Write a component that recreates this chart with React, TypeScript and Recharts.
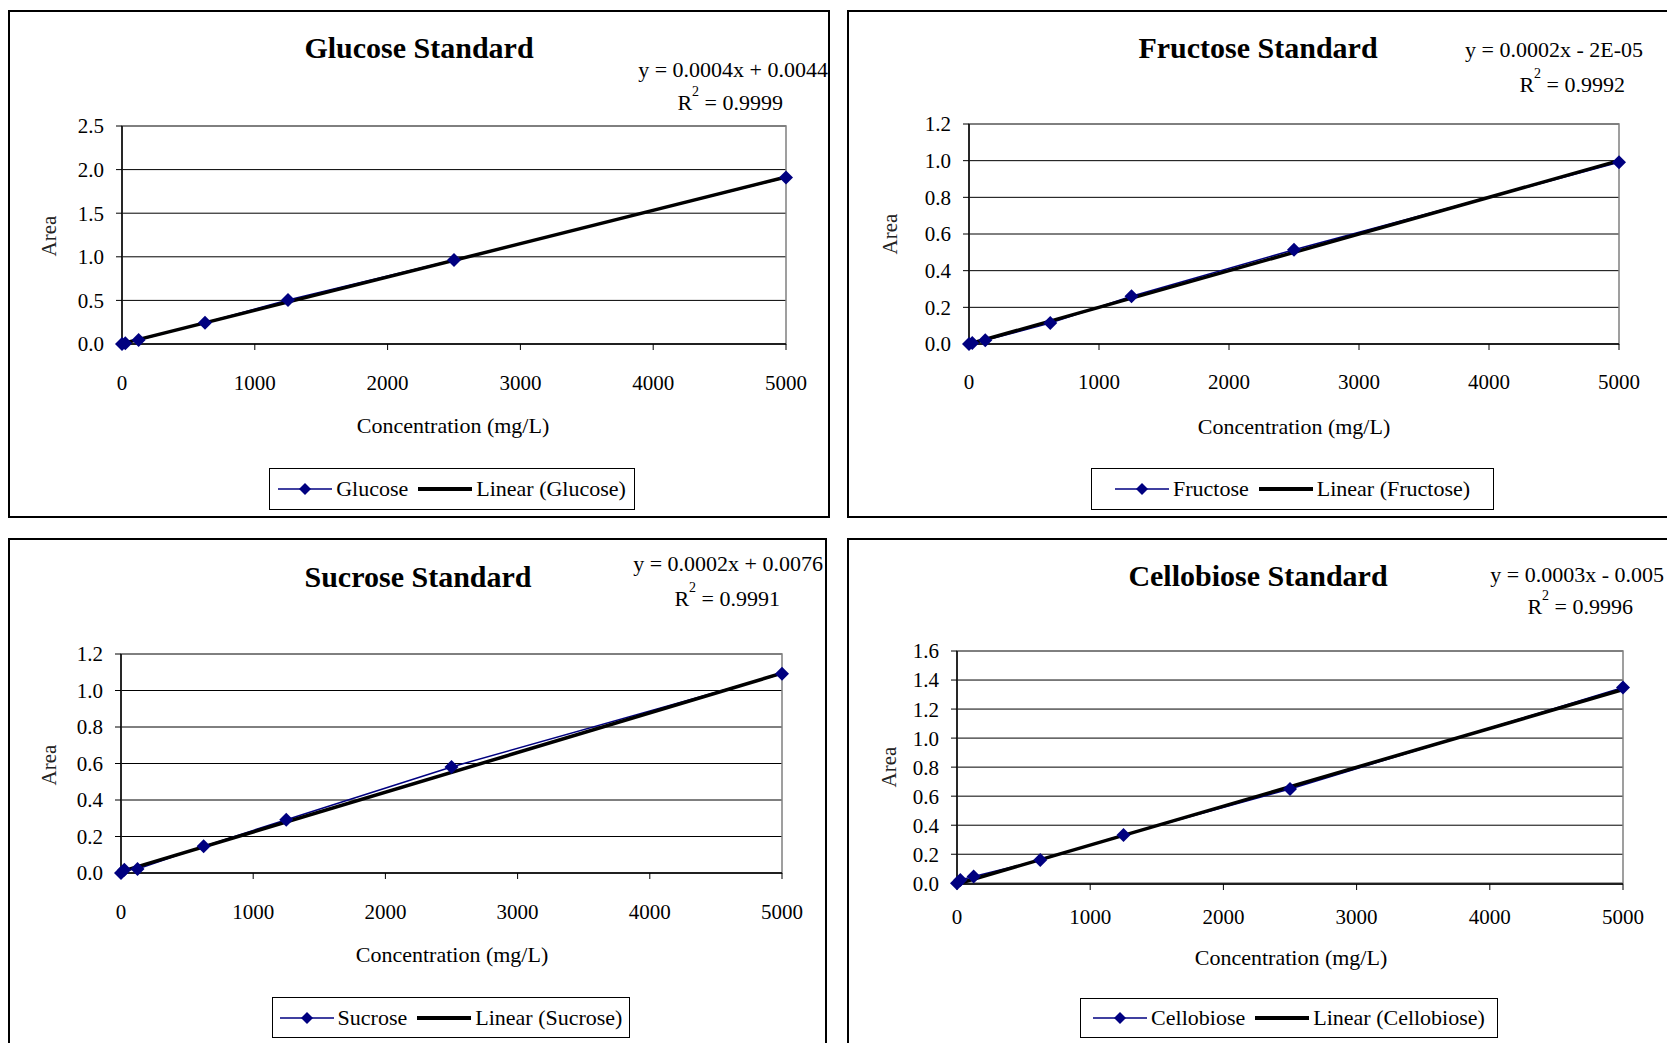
import React from 'react';
import { LineChart, Line, XAxis, YAxis, CartesianGrid, Legend, ReferenceArea } from 'recharts';

// concentrations of the standards (mg/L), shared by all four charts
const concentration = [0, 25, 125, 625, 1250, 2500, 5000];

// measured peak areas
const glucoseArea = [0.0, 0.008, 0.046, 0.245, 0.505, 0.963, 1.91];
const fructoseArea = [0.0, 0.005, 0.02, 0.114, 0.26, 0.514, 0.991];
const sucroseArea = [0.0, 0.018, 0.022, 0.146, 0.292, 0.581, 1.092];
const cellobioseArea = [0.0, 0.023, 0.046, 0.161, 0.333, 0.65, 1.348];

// trendline end points (x = 0 and x = 5000)
const trendX = [0, 5000];
const glucoseTrend = [0.0044, 1.915];
const fructoseTrend = [0.0, 1.0];
const sucroseTrend = [0.0076, 1.095];
const cellobioseTrend = [-0.005, 1.335];

const xTicks = [0, 1000, 2000, 3000, 4000, 5000];
const glucoseTicks = [0, 0.5, 1.0, 1.5, 2.0, 2.5];
const fructoseTicks = [0, 0.2, 0.4, 0.6, 0.8, 1.0, 1.2];
const sucroseTicks = [0, 0.2, 0.4, 0.6, 0.8, 1.0, 1.2];
const cellobioseTicks = [0, 0.2, 0.4, 0.6, 0.8, 1.0, 1.2, 1.4, 1.6];

const equations = ['y = 0.0004x + 0.0044', 'y = 0.0002x - 2E-05', 'y = 0.0002x + 0.0076', 'y = 0.0003x - 0.005'];
const rSquared = ['0.9999', '0.9992', '0.9991', '0.9996'];

const FONT = "'Liberation Serif', 'DejaVu Serif', serif";
const NAVY = '#000080';

type Box = { l: number; t: number; r: number; b: number };
type Pt = { x: number; y: number; anchor?: string };

interface PanelProps {
  name: string;
  values: number[];
  trend: number[];
  yTicks: number[];
  equation: string;
  r2: string;
  box: Box;
  plot: Box;
  xTickGap: number;
  title: Pt;
  eq: Pt;
  r2Pos: Pt;
  xLabel: Pt;
  area: Pt;
  legend: Box;
}

const diamond = (cx: number, cy: number, h: number) =>
  `M${cx},${cy - h} L${cx + h},${cy} L${cx},${cy + h} L${cx - h},${cy} Z`;

const renderDiamond = (p: any) => (
  <path key={`dot-${p.index}`} d={diamond(p.cx, p.cy, 7)} fill={NAVY} stroke="none" />
);

function Txt({ x, y, anchor = 'middle', size = 22, bold = false, children }: any) {
  const tx = anchor === 'end' ? '-100%' : anchor === 'start' ? '0%' : '-50%';
  return (
    <div
      style={{
        position: 'absolute',
        left: x,
        top: y,
        transform: `translate(${tx}, -50%)`,
        fontSize: size,
        fontWeight: bold ? 700 : 400,
        fontFamily: FONT,
        whiteSpace: 'nowrap',
        lineHeight: 1,
        color: '#000',
      }}
    >
      {children}
    </div>
  );
}

function LegendBox({ payload }: any) {
  // data series (diamond) first, trendline after
  const items = [...(payload || [])].sort((a: any, b: any) =>
    a.type === b.type ? 0 : a.type === 'diamond' ? -1 : 1
  );
  return (
    <div
      style={{
        boxSizing: 'border-box',
        width: '100%',
        height: '100%',
        border: '1px solid #000',
        display: 'flex',
        alignItems: 'center',
        justifyContent: 'center',
        fontFamily: FONT,
        fontSize: 22,
        background: '#fff',
      }}
    >
      {items.map((entry: any, i: number) => (
        <React.Fragment key={entry.value}>
          <svg width={54} height={14} style={{ marginLeft: i === 0 ? 0 : 10 }}>
            {entry.type === 'diamond' ? (
              <>
                <line x1={0} y1={7} x2={54} y2={7} stroke={NAVY} strokeWidth={1.5} />
                <path d={diamond(27, 7, 6)} fill={NAVY} />
              </>
            ) : (
              <line x1={0} y1={7} x2={54} y2={7} stroke="#000" strokeWidth={4} />
            )}
          </svg>
          <span style={{ marginLeft: 4 }}>{entry.value}</span>
        </React.Fragment>
      ))}
    </div>
  );
}

function Panel(p: PanelProps) {
  const W = p.box.r - p.box.l;
  const H = p.box.b - p.box.t;
  const yAxisW = 60;
  const xAxisH = 30;
  const margin = {
    left: p.plot.l - p.box.l - yAxisW,
    top: p.plot.t - p.box.t,
    right: p.box.r - p.plot.r,
    bottom: p.box.b - p.plot.b - xAxisH,
  };
  const pts = concentration.map((x, i) => ({ x, y: p.values[i] }));
  const trendPts = trendX.map((x, i) => ({ x, y: p.trend[i] }));
  const yMax = p.yTicks[p.yTicks.length - 1];
  const rx = (v: number) => v - p.box.l;
  const ry = (v: number) => v - p.box.t;

  return (
    <div style={{ position: 'absolute', left: p.box.l, top: p.box.t, width: W, height: H }}>
      <div
        style={{
          position: 'absolute',
          inset: 0,
          border: '2px solid #000',
          boxSizing: 'border-box',
          background: '#fff',
        }}
      />
      <div style={{ position: 'absolute', left: 0, top: 0 }}>
        <LineChart width={W} height={H} margin={margin}>
          <CartesianGrid vertical={false} stroke="#000" strokeWidth={1} />
          <ReferenceArea x1={0} x2={5000} y1={0} y2={yMax} fill="none" stroke="#808080" strokeWidth={1.5} />
          <XAxis
            type="number"
            dataKey="x"
            domain={[0, 5000]}
            ticks={xTicks}
            interval={0}
            height={xAxisH}
            axisLine={{ stroke: '#000', strokeWidth: 1.5 }}
            tickLine={{ stroke: '#000' }}
            tickSize={6}
            tickMargin={p.xTickGap}
            tick={{ fill: '#000', fontSize: 21, fontFamily: FONT }}
          />
          <YAxis
            type="number"
            dataKey="y"
            domain={[0, yMax]}
            ticks={p.yTicks}
            interval={0}
            width={yAxisW}
            axisLine={{ stroke: '#000', strokeWidth: 1.5 }}
            tickLine={{ stroke: '#000' }}
            tickSize={6}
            tickMargin={12}
            tickFormatter={(v: number) => v.toFixed(1)}
            tick={{ fill: '#000', fontSize: 21, fontFamily: FONT }}
          />
          <Line
            data={pts}
            dataKey="y"
            name={p.name}
            type="linear"
            stroke={NAVY}
            strokeWidth={1.5}
            dot={renderDiamond}
            activeDot={false}
            legendType="diamond"
            isAnimationActive={false}
          />
          <Line
            data={trendPts}
            dataKey="y"
            name={`Linear (${p.name})`}
            type="linear"
            stroke="#000"
            strokeWidth={3.5}
            dot={false}
            activeDot={false}
            legendType="line"
            isAnimationActive={false}
          />
          <Legend
            layout="horizontal"
            verticalAlign="middle"
            align="center"
            content={<LegendBox />}
            wrapperStyle={{
              left: rx(p.legend.l),
              top: ry(p.legend.t),
              width: p.legend.r - p.legend.l,
              height: p.legend.b - p.legend.t,
            }}
          />
        </LineChart>
      </div>
      <Txt x={rx(p.title.x)} y={ry(p.title.y)} size={30} bold>
        {p.name} Standard
      </Txt>
      <Txt x={rx(p.eq.x)} y={ry(p.eq.y)} anchor={p.eq.anchor || 'end'}>
        {p.equation}
      </Txt>
      <Txt x={rx(p.r2Pos.x)} y={ry(p.r2Pos.y)} anchor="end">
        R<sup style={{ fontSize: 14, verticalAlign: 'top', position: 'relative', top: -7 }}>2</sup> = {p.r2}
      </Txt>
      <Txt x={rx(p.xLabel.x)} y={ry(p.xLabel.y)} size={22}>
        Concentration (mg/L)
      </Txt>
      <div
        style={{
          position: 'absolute',
          left: rx(p.area.x),
          top: ry(p.area.y),
          transform: 'translate(-50%, -50%) rotate(-90deg)',
          fontFamily: FONT,
          fontSize: 21,
          lineHeight: 1,
          color: '#222',
        }}
      >
        Area
      </div>
    </div>
  );
}

export default function App() {
  return (
    <div
      style={{
        position: 'absolute',
        left: 0,
        top: 0,
        width: 1667,
        height: 1043,
        overflow: 'hidden',
        background: '#fff',
      }}
    >
      <Panel
        name="Glucose"
        values={glucoseArea}
        trend={glucoseTrend}
        yTicks={glucoseTicks}
        equation={equations[0]}
        r2={rSquared[0]}
        box={{ l: 8, t: 10, r: 830, b: 518 }}
        plot={{ l: 122, t: 126, r: 786, b: 344 }}
        xTickGap={25}
        title={{ x: 419, y: 48 }}
        eq={{ x: 828, y: 70 }}
        r2Pos={{ x: 783, y: 103 }}
        xLabel={{ x: 453, y: 426 }}
        area={{ x: 49, y: 236 }}
        legend={{ l: 269, t: 468, r: 635, b: 510 }}
      />
      <Panel
        name="Fructose"
        values={fructoseArea}
        trend={fructoseTrend}
        yTicks={fructoseTicks}
        equation={equations[1]}
        r2={rSquared[1]}
        box={{ l: 847, t: 10, r: 1700, b: 518 }}
        plot={{ l: 969, t: 124, r: 1619, b: 344 }}
        xTickGap={24}
        title={{ x: 1258, y: 48 }}
        eq={{ x: 1465, y: 50, anchor: 'start' }}
        r2Pos={{ x: 1625, y: 85 }}
        xLabel={{ x: 1294, y: 427 }}
        area={{ x: 890, y: 234 }}
        legend={{ l: 1091, t: 468, r: 1494, b: 510 }}
      />
      <Panel
        name="Sucrose"
        values={sucroseArea}
        trend={sucroseTrend}
        yTicks={sucroseTicks}
        equation={equations[2]}
        r2={rSquared[2]}
        box={{ l: 8, t: 538, r: 827, b: 1060 }}
        plot={{ l: 121, t: 654, r: 782, b: 873 }}
        xTickGap={25}
        title={{ x: 418, y: 577 }}
        eq={{ x: 823, y: 564 }}
        r2Pos={{ x: 780, y: 599 }}
        xLabel={{ x: 452, y: 955 }}
        area={{ x: 49, y: 765 }}
        legend={{ l: 272, t: 997, r: 630, b: 1038 }}
      />
      <Panel
        name="Cellobiose"
        values={cellobioseArea}
        trend={cellobioseTrend}
        yTicks={cellobioseTicks}
        equation={equations[3]}
        r2={rSquared[3]}
        box={{ l: 847, t: 538, r: 1700, b: 1060 }}
        plot={{ l: 957, t: 651, r: 1623, b: 884 }}
        xTickGap={19}
        title={{ x: 1258, y: 576 }}
        eq={{ x: 1664, y: 575 }}
        r2Pos={{ x: 1633, y: 607 }}
        xLabel={{ x: 1291, y: 958 }}
        area={{ x: 889, y: 767 }}
        legend={{ l: 1080, t: 998, r: 1498, b: 1038 }}
      />
    </div>
  );
}
